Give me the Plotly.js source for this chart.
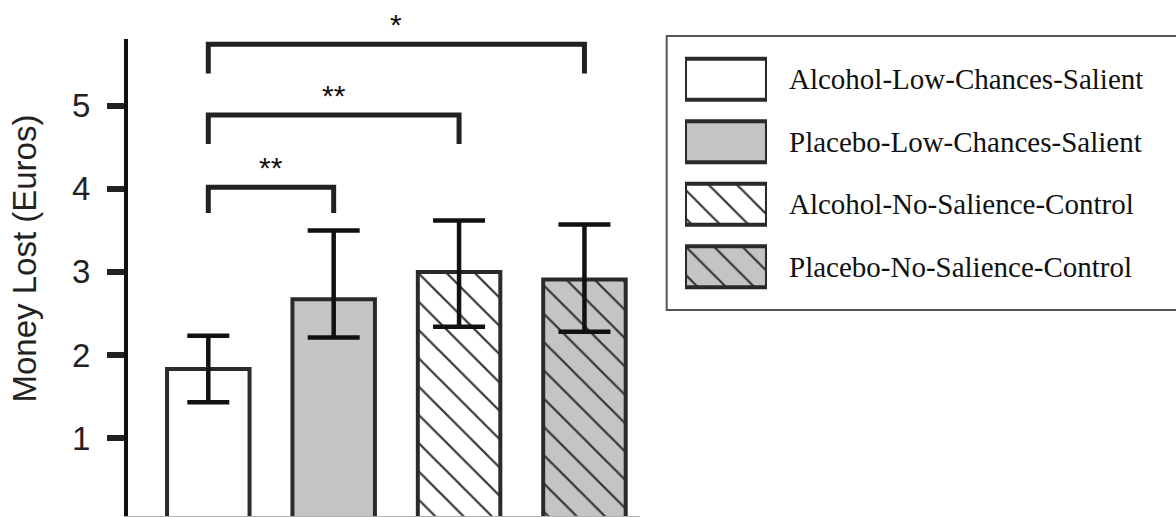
<!DOCTYPE html>
<html>
<head>
<meta charset="utf-8">
<script src="https://cdn.plot.ly/plotly-3.0.1.min.js"></script>
<style>
  html, body { margin: 0; padding: 0; background: #ffffff; }
  #chart { width: 1176px; height: 517px; }
</style>
</head>
<body>
<div id="chart"></div>
<script>
// ---- data ----
const categories = [
  'Alcohol-Low-Chances-Salient',
  'Placebo-Low-Chances-Salient',
  'Alcohol-No-Salience-Control',
  'Placebo-No-Salience-Control'
];
const meanLoss = [1.83, 2.67, 3.00, 2.91];
const errPlus  = [0.40, 0.83, 0.62, 0.66];
const errMinus = [0.40, 0.46, 0.66, 0.63];
const yTickVals = [1, 2, 3, 4, 5];
const yTickText = ['1', '2', '3', '4', '5'];
const yTitle = 'Money Lost (Euros)';

// significance comparisons
const compFrom  = [0, 0, 0];
const compTo    = [1, 2, 3];
const compLevel = [4.02, 4.89, 5.74];
const compLeg   = [3.71, 4.54, 5.39];
const compLabel = ['**', '**', '*'];

// ---- styles ----
const fills    = ['#ffffff', '#c4c4c4', '#ffffff', '#c4c4c4'];
const patterns = ['', '', '\\', '\\'];
const capWidths = [21, 26, 26, 26];
const outline = '#2a2a2a';

const traces = [];
categories.forEach((c, i) => {
  traces.push({
    type: 'bar',
    x: [i],
    y: [meanLoss[i]],
    name: c,
    width: 0.658,
    marker: {
      color: fills[i],
      line: { color: outline, width: 4 },
      pattern: { shape: patterns[i], fgcolor: '#333333', bgcolor: fills[i], size: 20, solidity: 0.11 }
    },
    error_y: {
      type: 'data', symmetric: false,
      array: [errPlus[i]], arrayminus: [errMinus[i]],
      color: '#111111', thickness: 4.5, width: capWidths[i]
    },
    cliponaxis: false,
    hoverinfo: 'skip',
    showlegend: false
  });
});

// legend swatches drawn as bars in a small separate subplot
categories.forEach((c, i) => {
  traces.push({
    type: 'bar',
    orientation: 'h',
    x: [1],
    y: [i],
    base: 0,
    width: 0.656,
    xaxis: 'x2',
    yaxis: 'y2',
    marker: {
      color: fills[i],
      line: { color: outline, width: 4 },
      pattern: { shape: patterns[i], fgcolor: '#333333', bgcolor: fills[i], size: 20, solidity: 0.11 }
    },
    cliponaxis: false,
    hoverinfo: 'skip',
    showlegend: false
  });
});

const shapes = [];
compFrom.forEach((f, k) => {
  const t = compTo[k];
  shapes.push({
    type: 'path', xref: 'x', yref: 'y',
    path: `M ${f},${compLeg[k]} L ${f},${compLevel[k]} L ${t},${compLevel[k]} L ${t},${compLeg[k]}`,
    line: { color: '#222222', width: 5 }
  });
});
// legend frame
shapes.push({
  type: 'rect', xref: 'paper', yref: 'paper',
  x0: 0.514, x1: 1.02, y0: 0.4292, y1: 1.0,
  line: { color: '#555555', width: 2 },
  fillcolor: 'rgba(0,0,0,0)'
});

const annotations = [];
compFrom.forEach((f, k) => {
  annotations.push({
    xref: 'x', yref: 'y',
    x: (f + compTo[k]) / 2, y: compLevel[k],
    yshift: 1, yanchor: 'bottom',
    text: compLabel[k], showarrow: false,
    font: { family: 'Liberation Sans, Arial, sans-serif', size: 30, color: '#111111' }
  });
});
categories.forEach((c, i) => {
  annotations.push({
    xref: 'paper', yref: 'y2',
    x: 0.6288, y: i, xanchor: 'left', yanchor: 'middle',
    text: c, showarrow: false,
    font: { family: 'Liberation Serif, Times New Roman, serif', size: 29, color: '#111111' }
  });
});
// y-axis title
annotations.push({
  xref: 'paper', yref: 'paper',
  x: -0.0997, y: 0.5354, xanchor: 'center', yanchor: 'middle',
  textangle: -90, text: yTitle, showarrow: false,
  font: { family: 'Liberation Sans, Arial, sans-serif', size: 33, color: '#222222' }
});

const layout = {
  width: 1176, height: 517,
  margin: { l: 128, r: 0, t: 36, b: 1, pad: 0 },
  paper_bgcolor: '#ffffff', plot_bgcolor: '#ffffff',
  barmode: 'overlay',
  showlegend: false,
  xaxis: {
    domain: [0, 0.4885],
    range: [-0.6404, 3.4426],
    showticklabels: false, ticks: '',
    showgrid: false, zeroline: false,
    showline: true, linecolor: '#b0b0b0', linewidth: 1.5
  },
  yaxis: {
    domain: [0, 0.9931],
    range: [0.0608, 5.8007],
    tickvals: yTickVals, ticktext: yTickText,
    ticks: 'outside', ticklen: 17, tickwidth: 6, tickcolor: '#222222',
    ticklabelstandoff: 10,
    tickfont: { family: 'Liberation Sans, Arial, sans-serif', size: 33, color: '#222222' },
    showgrid: false, zeroline: false,
    showline: true, linecolor: '#111111', linewidth: 4
  },
  xaxis2: {
    domain: [0.5315, 0.6097], range: [0, 1], anchor: 'y2',
    visible: false, fixedrange: true
  },
  yaxis2: {
    domain: [0.4543, 0.9751], range: [3.5, -0.5], anchor: 'x2',
    visible: false, fixedrange: true
  },
  shapes: shapes,
  annotations: annotations
};

Plotly.newPlot('chart', traces, layout, { staticPlot: true, displayModeBar: false });
</script>
</body>
</html>
